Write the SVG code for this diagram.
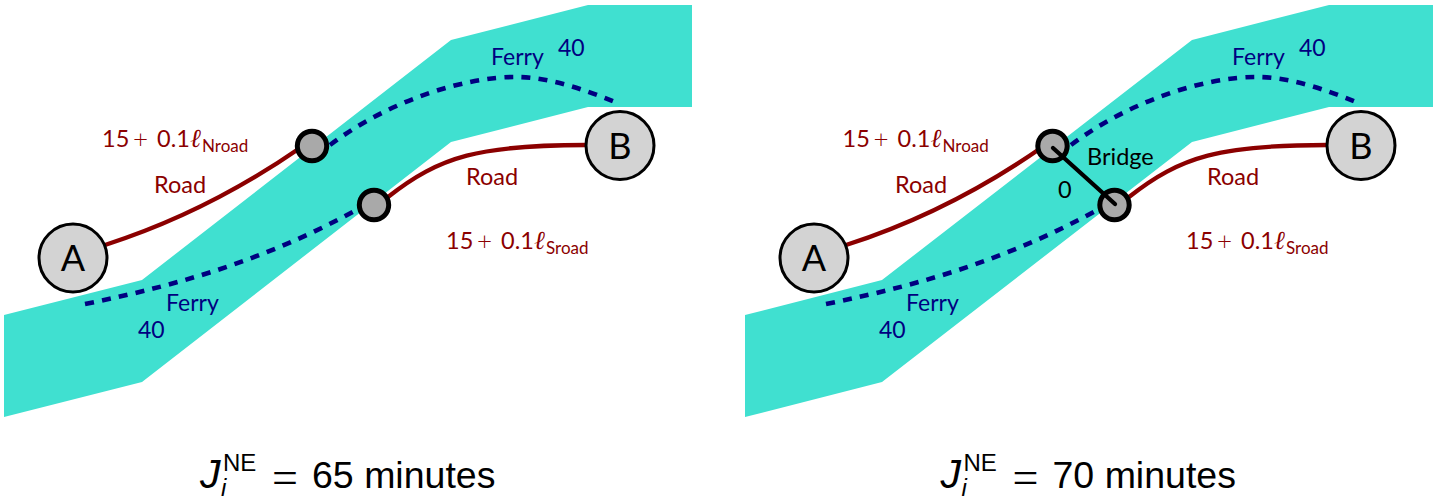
<svg xmlns="http://www.w3.org/2000/svg" width="1436" height="504" viewBox="0 0 1436 504">
<style>
text{font-family:"Lato","Noto Sans",sans-serif}
.river{fill:#40e0d0}
.road{fill:none;stroke:#8b0000;stroke-width:4.3}
.ferry{fill:none;stroke:#000080;stroke-width:4.6;stroke-dasharray:9 8.2}
.bridge{fill:none;stroke:#000;stroke-width:4.3;stroke-linecap:round}
.city{fill:#d3d3d3;stroke:#000;stroke-width:3}
.junction{fill:#a9a9a9;stroke:#000;stroke-width:5}
.cityt{font-size:36px;text-anchor:middle;fill:#000}
.rl{font-size:23.5px;fill:#8b0000}
.fl{font-size:23px;fill:#000080}
.bl{font-size:23.5px;fill:#000}
.sub{font-size:17px}
.plus{font-size:26px;font-weight:300}
.ell{font-family:"Liberation Serif",serif;font-style:italic;font-size:26px}
.cap{font-family:"Liberation Sans",sans-serif;font-size:37.5px;fill:#000}
.capj{font-style:italic;font-size:41px}
.capi{font-style:italic;font-size:24px}
.capn{font-size:24px}
.capm{font-family:"Liberation Serif",serif;font-size:46px}
</style>
<g id="rivers">
<path class="river" d="M4,315 L142,280 L451,40 L588,5 L692,5 L692,107 L588,107 L451,142 L142,382 L4,417 Z"/>
<path class="river" d="M745,315 L882,280 L1192,40 L1329,5 L1433,5 L1433,107 L1329,107 L1192,142 L882,382 L745,417 Z"/>
</g>
<g id="connectors">
<path class="road" d="M105,245 C180,221 245,186 300,148"/>
<path class="road" d="M388,197 C440,156 480,145 586,145"/>
<path class="ferry" d="M330,145 C390,100 465,77 515,77 C550,77 585,90 615,102"/>
<path class="ferry" d="M85,304 C190,283 275,255 360,208"/>
<path class="road" d="M846,245 C921,221 986,186 1041,148"/>
<path class="road" d="M1129,197 C1181,156 1221,145 1327,145"/>
<path class="ferry" d="M1071,145 C1131,100 1206,77 1256,77 C1291,77 1326,90 1356,102"/>
<path class="ferry" d="M826,304 C931,283 1016,255 1101,208"/>
</g>
<g id="left-a"><circle class="city" cx="73" cy="258" r="34"/><text class="cityt" x="73" y="271">A</text></g>
<g id="left-b"><circle class="city" cx="620" cy="145.5" r="34"/><text class="cityt" x="620" y="158.5">B</text></g>
<g id="left-n"><circle class="junction" cx="312" cy="146" r="14.7"/></g>
<g id="left-s"><circle class="junction" cx="374" cy="205" r="14.7"/></g>
<g id="right-a"><circle class="city" cx="814" cy="258" r="34"/><text class="cityt" x="814" y="271">A</text></g>
<g id="right-b"><circle class="city" cx="1361" cy="145.5" r="34"/><text class="cityt" x="1361" y="158.5">B</text></g>
<g id="right-n"><circle class="junction" cx="1052.5" cy="146" r="14.7"/></g>
<g id="right-s"><circle class="junction" cx="1114.5" cy="205" r="14.7"/></g>
<g id="bridge-link"><path class="bridge" d="M1053,148 L1115,204"/></g>
<g id="labels">
<text class="rl" y="147"><tspan x="102">15</tspan><tspan class="plus" x="133" y="148">+</tspan><tspan x="157" y="147">0.1</tspan><tspan class="ell" x="190">ℓ</tspan><tspan class="sub" x="202" y="152">Nroad</tspan></text>
<text class="rl" x="154" y="193">Road</text>
<text class="rl" x="466" y="185">Road</text>
<text class="rl" y="249"><tspan x="446">15</tspan><tspan class="plus" x="477" y="250">+</tspan><tspan x="501" y="249">0.1</tspan><tspan class="ell" x="534">ℓ</tspan><tspan class="sub" x="546" y="254">Sroad</tspan></text>
<text class="fl" x="491" y="65">Ferry</text>
<text class="fl" x="558" y="56">40</text>
<text class="fl" x="166" y="311">Ferry</text>
<text class="fl" x="138" y="338">40</text>
<text class="rl" y="147"><tspan x="842.5">15</tspan><tspan class="plus" x="873.5" y="148">+</tspan><tspan x="897.5" y="147">0.1</tspan><tspan class="ell" x="930.5">ℓ</tspan><tspan class="sub" x="942.5" y="152">Nroad</tspan></text>
<text class="rl" x="895" y="193">Road</text>
<text class="rl" x="1207" y="185">Road</text>
<text class="rl" y="249"><tspan x="1186">15</tspan><tspan class="plus" x="1217" y="250">+</tspan><tspan x="1241" y="249">0.1</tspan><tspan class="ell" x="1274">ℓ</tspan><tspan class="sub" x="1286" y="254">Sroad</tspan></text>
<text class="fl" x="1232" y="65">Ferry</text>
<text class="fl" x="1299" y="56">40</text>
<text class="fl" x="906" y="311">Ferry</text>
<text class="fl" x="879" y="338">40</text>
<text class="bl" x="1087" y="165">Bridge</text>
<text class="bl" x="1058" y="198">0</text>
<text class="cap capj" x="200" y="488">J</text><text class="cap capi" x="221" y="496">i</text><text class="cap capn" x="223" y="471">NE</text>
<text class="cap capm" x="272" y="493">=</text><text class="cap" x="312" y="488">65 minutes</text>
<text class="cap capj" x="940.5" y="488">J</text><text class="cap capi" x="961.5" y="496">i</text><text class="cap capn" x="963.5" y="471">NE</text>
<text class="cap capm" x="1012.5" y="493">=</text><text class="cap" x="1052.5" y="488">70 minutes</text>
</g>
</svg>
